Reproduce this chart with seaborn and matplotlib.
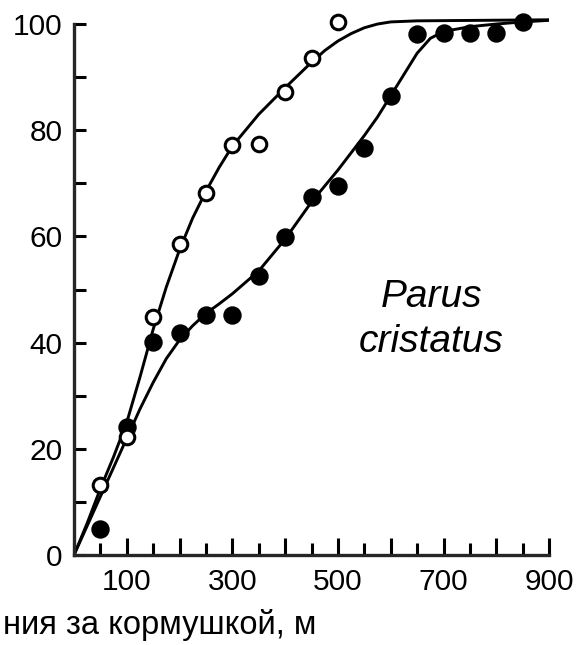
import seaborn as sns
import pandas as pd
import matplotlib.pyplot as plt
from matplotlib.ticker import MultipleLocator, FixedLocator

# open circles
open_x = [50, 100, 150, 200, 250, 300, 350, 400, 450, 500]
open_y = [13.2, 22.2, 44.8, 58.6, 68.2, 77.2, 77.4, 87.2, 93.6, 100.4]

# filled circles
filled_x = [50, 100, 150, 200, 250, 300, 350, 400, 450, 500, 550, 600, 650, 700, 750, 800, 850]
filled_y = [4.9, 24.1, 40.1, 41.8, 45.2, 45.2, 52.5, 59.9, 67.4, 69.5, 76.6, 86.4, 98.1, 98.3, 98.3, 98.3, 100.4]

# fitted curves
open_curve_x = [0, 25, 50, 75, 100, 125, 150, 175, 200, 225, 250, 275, 300, 350, 400,
                450, 475, 500, 525, 550, 575, 600, 650, 900]
open_curve_y = [0, 6, 12.5, 18.5, 25, 33.5, 42.5, 50.5, 57.5, 63.5, 68.5, 73, 77, 83, 88,
                92.8, 95, 96.8, 98.2, 99.3, 100, 100.4, 100.6, 100.8]

filled_curve_x = [0, 25, 50, 75, 100, 125, 150, 175, 200, 225, 250, 275, 300, 350, 400,
                  450, 500, 550, 575, 600, 625, 650, 675, 700, 750, 800, 850, 900]
filled_curve_y = [0, 5.5, 11, 16.5, 22, 27.5, 32.5, 37, 40.5, 43.2, 45.5, 47.3, 49.2, 53.5, 59.5,
                  66.5, 72.5, 79, 82.5, 86.5, 90.5, 94.5, 97.3, 98.6, 99.5, 100, 100.4, 100.7]

x_ticks = [100, 200, 300, 400, 500, 600, 700, 800, 900]
x_tick_labels = ["100", "", "300", "", "500", "", "700", "", "900"]

sns.set_theme(style="ticks")
plt.rcParams["font.family"] = ["Liberation Sans", "DejaVu Sans"]
plt.rcParams["text.color"] = "black"

fig = plt.figure(figsize=(5.78, 6.45), dpi=100)
ax = fig.add_axes([0.128, 0.1395, 0.822, 0.8397])

curves = pd.DataFrame({"x": open_curve_x, "y": open_curve_y})
sns.lineplot(data=curves, x="x", y="y", color="black", lw=2.1, ax=ax)
curves2 = pd.DataFrame({"x": filled_curve_x, "y": filled_curve_y})
sns.lineplot(data=curves2, x="x", y="y", color="black", lw=2.1, ax=ax)

sns.scatterplot(x=filled_x, y=filled_y, color="black", s=150, edgecolor="black",
                linewidth=1, ax=ax, zorder=3, clip_on=False)
sns.scatterplot(x=open_x, y=open_y, color="white", s=110, edgecolor="black",
                linewidth=2.2, ax=ax, zorder=4, clip_on=False)

ax.set_xlim(0, 900)
ax.set_ylim(0, 102)
sns.despine(ax=ax)
ax.spines["left"].set_bounds(0, 100)
ax.spines["left"].set_linewidth(2.4)
ax.spines["bottom"].set_linewidth(2.4)

ax.yaxis.set_major_locator(MultipleLocator(20))
ax.yaxis.set_minor_locator(MultipleLocator(10))
ax.xaxis.set_major_locator(FixedLocator(x_ticks))
ax.set_xticklabels(x_tick_labels)
ax.xaxis.set_minor_locator(MultipleLocator(50))

ax.tick_params(axis="y", which="both", direction="in", length=8.5, width=2.2,
               labelsize=21.5, pad=8, colors="black")
ax.tick_params(axis="x", which="major", direction="in", length=12, width=2.2,
               labelsize=21.5, pad=9, colors="black")
ax.tick_params(axis="x", which="minor", direction="in", length=8.5, width=2.2, colors="black")

ax.set_xlabel("")
ax.set_ylabel("")

ax.text(677, 46.7, "Parus", style="italic", fontsize=28, ha="center", va="baseline", color="black")
ax.text(677, 38.2, "cristatus", style="italic", fontsize=28, ha="center", va="baseline", color="black")

fig.text(316 / 578, 1 - 625 / 645, "ния за кормушкой, м", fontsize=23.5,
         ha="right", va="center", color="black")

fig.savefig("out.png", dpi=100)
